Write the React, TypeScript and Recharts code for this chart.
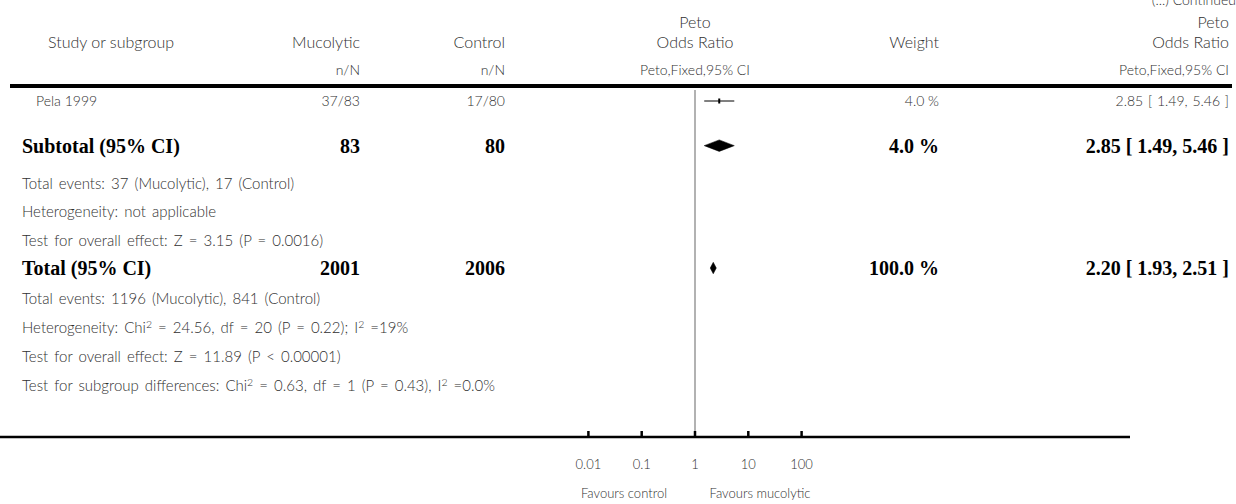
import React from "react";
import { Area, ComposedChart, Line, ReferenceLine, Scatter, XAxis, YAxis } from "recharts";

// ---- data ----
const studyNames = ["Pela 1999"];
const studyEventsA = ["37/83"];
const studyEventsB = ["17/80"];
const studyOR = [2.85];
const studyLo = [1.49];
const studyHi = [5.46];
const studyWeight = ["4.0 %"];
const studyCI = ["2.85 [ 1.49, 5.46 ]"];
const studyRow = [0];

const pooledNames = ["Subtotal (95% CI)", "Total (95% CI)"];
const pooledA = ["83", "2001"];
const pooledB = ["80", "2006"];
const pooledOR = [2.85, 2.2];
const pooledLo = [1.49, 1.93];
const pooledHi = [5.46, 2.51];
const pooledWeight = ["4.0 %", "100.0 %"];
const pooledCI = ["2.85 [ 1.49, 5.46 ]", "2.20 [ 1.93, 2.51 ]"];
const pooledRow = [1.55, 5.8];

const noteTexts: React.ReactNode[] = [
  "Total events: 37 (Mucolytic), 17 (Control)",
  "Heterogeneity: not applicable",
  "Test for overall effect: Z = 3.15 (P = 0.0016)",
  "Total events: 1196 (Mucolytic), 841 (Control)",
  <>Heterogeneity: Chi<sup>2</sup> = 24.56, df = 20 (P = 0.22); I<sup>2</sup> =19%</>,
  "Test for overall effect: Z = 11.89 (P < 0.00001)",
  <>Test for subgroup differences: Chi<sup>2</sup> = 0.63, df = 1 (P = 0.43), I<sup>2</sup> =0.0%</>,
];
const noteRows = [2.85, 3.82, 4.83, 6.84, 7.85, 8.85, 9.86];

const axisTicks = [0.01, 0.1, 1, 10, 100];
const axisTickLabels = ["0.01", "0.1", "1", "10", "100"];

// ---- layout ----
const W = 1236;
const H = 504;
const PLOT_TOP = 90;
const PLOT_BOTTOM = 437;
const PLOT_RIGHT = 1130;
const CENTER_X = 695;
const PX_PER_DECADE = 53.3;
const ROW0 = 101;
const ROW_H = 28.8;
const DIAMOND_HALF = 0.2;

const rowY = (r: number) => ROW0 + r * ROW_H;
const xDomain = [
  Math.pow(10, (0 - CENTER_X) / PX_PER_DECADE),
  Math.pow(10, (PLOT_RIGHT - CENTER_X) / PX_PER_DECADE),
];
const yDomain = [(PLOT_TOP - ROW0) / ROW_H, (PLOT_BOTTOM - ROW0) / ROW_H];

const SANS = "Lato, 'Open Sans', sans-serif";
const SERIF = "'Liberation Serif', 'DejaVu Serif', serif";
const GREY = "#303030";

const ciLines = studyRow.map((r, i) => [
  { x: studyLo[i], y: r },
  { x: studyHi[i], y: r },
]);
const points = studyRow.map((r, i) => ({ x: studyOR[i], y: r }));
const diamonds = pooledRow.map((r, i) => [
  { x: pooledLo[i], band: [r, r] },
  { x: pooledOR[i], band: [r - DIAMOND_HALF, r + DIAMOND_HALF] },
  { x: pooledHi[i], band: [r, r] },
]);

const Tick = (props: any) => {
  const { x, y, payload } = props;
  const idx = axisTicks.indexOf(payload.value);
  return (
    <g>
      <line x1={x} x2={x} y1={y - 6} y2={y} stroke="#000" strokeWidth={2.5} />
      <text x={x} y={y + 32} textAnchor="middle" fill={GREY} fontFamily={SANS} fontWeight={300} fontSize={13}>
        {axisTickLabels[idx]}
      </text>
    </g>
  );
};

const EstBox = (props: any) => {
  const { cx, cy } = props;
  return <rect x={cx - 1} y={cy - 2.5} width={2} height={5} fill="#000" />;
};

function T({
  x, y, children, align = "left", size = 14, bold = false, serif = false, spacing = 0,
}: {
  x: number; y: number; children: React.ReactNode; align?: "left" | "right" | "center";
  size?: number; bold?: boolean; serif?: boolean; spacing?: number;
}) {
  const style: React.CSSProperties = {
    position: "absolute",
    top: y - size * 0.6,
    lineHeight: `${size * 1.2}px`,
    fontSize: size,
    fontFamily: serif ? SERIF : SANS,
    fontWeight: bold ? 700 : 300,
    color: bold ? "#000" : GREY,
    whiteSpace: "pre",
    wordSpacing: spacing,
  };
  if (align === "left") style.left = x;
  else if (align === "right") style.right = W - x;
  else {
    style.left = x;
    style.transform = "translateX(-50%)";
  }
  return <div style={style}>{children}</div>;
}

export default function App() {
  return (
    <div style={{ position: "absolute", left: 0, top: 0, width: W, height: H, background: "#fff", overflow: "hidden" }}>
      <style>{"sup{font-size:70%;line-height:0;vertical-align:0.45em}"}</style>

      <T x={1236} y={0} align="right" size={14}>(...) Continued</T>

      {/* header */}
      <T x={48} y={42} size={16}>Study or subgroup</T>
      <T x={360} y={42} align="right" size={16}>Mucolytic</T>
      <T x={505} y={42} align="right" size={16}>Control</T>
      <T x={CENTER_X} y={22} align="center" size={16}>Peto</T>
      <T x={CENTER_X} y={42} align="center" size={16}>Odds Ratio</T>
      <T x={939} y={42} align="right" size={16}>Weight</T>
      <T x={1229} y={22} align="right" size={16}>Peto</T>
      <T x={1229} y={42} align="right" size={16}>Odds Ratio</T>
      <T x={360} y={70} align="right">n/N</T>
      <T x={505} y={70} align="right">n/N</T>
      <T x={CENTER_X} y={70} align="center">Peto,Fixed,95% CI</T>
      <T x={1229} y={70} align="right">Peto,Fixed,95% CI</T>
      <div style={{ position: "absolute", left: 10, top: 84, width: 1222, height: 4, background: "#000" }} />

      {studyNames.map((n, i) => (
        <React.Fragment key={n}>
          <T x={36} y={rowY(studyRow[i])}>{n}</T>
          <T x={360} y={rowY(studyRow[i])} align="right">{studyEventsA[i]}</T>
          <T x={505} y={rowY(studyRow[i])} align="right">{studyEventsB[i]}</T>
          <T x={939} y={rowY(studyRow[i])} align="right">{studyWeight[i]}</T>
          <T x={1229} y={rowY(studyRow[i])} align="right" spacing={1}>{studyCI[i]}</T>
        </React.Fragment>
      ))}

      {pooledNames.map((n, i) => (
        <React.Fragment key={n}>
          <T x={22} y={rowY(pooledRow[i])} size={20} bold serif>{n}</T>
          <T x={360} y={rowY(pooledRow[i])} align="right" size={20} bold serif>{pooledA[i]}</T>
          <T x={505} y={rowY(pooledRow[i])} align="right" size={20} bold serif>{pooledB[i]}</T>
          <T x={939} y={rowY(pooledRow[i])} align="right" size={20} bold serif>{pooledWeight[i]}</T>
          <T x={1229} y={rowY(pooledRow[i])} align="right" size={20} bold serif>{pooledCI[i]}</T>
        </React.Fragment>
      ))}

      {noteTexts.map((t, i) => (
        <T key={i} x={22} y={rowY(noteRows[i])} size={15} spacing={2}>{t}</T>
      ))}

      <T x={624} y={494} align="center" size={13}>Favours control</T>
      <T x={760} y={494} align="center" size={13}>Favours mucolytic</T>

      <div style={{ position: "absolute", left: 0, top: 0 }}>
        <ComposedChart
          width={W}
          height={H}
          margin={{ top: PLOT_TOP, right: W - PLOT_RIGHT, bottom: 0, left: 0 }}
        >
          <XAxis
            dataKey="x"
            type="number"
            scale="log"
            domain={xDomain}
            allowDataOverflow
            ticks={axisTicks}
            tick={<Tick />}
            tickLine={false}
            tickSize={0}
            tickMargin={0}
            height={H - PLOT_BOTTOM}
            axisLine={{ stroke: "#000", strokeWidth: 2.5 }}
            interval={0}
          />
          <YAxis type="number" domain={yDomain} reversed hide allowDataOverflow />
          <ReferenceLine x={1} stroke="#999" strokeWidth={1.5} />
          {ciLines.map((d, i) => (
            <Line key={i} data={d} dataKey="y" stroke="#000" strokeWidth={1} dot={false} isAnimationActive={false} />
          ))}
          <Scatter data={points} dataKey="y" shape={<EstBox />} isAnimationActive={false} />
          {diamonds.map((d, i) => (
            <Area key={i} data={d} dataKey="band" type="linear" stroke="#000" strokeWidth={0.5} fill="#000" fillOpacity={1} isAnimationActive={false} />
          ))}
        </ComposedChart>
      </div>
    </div>
  );
}
